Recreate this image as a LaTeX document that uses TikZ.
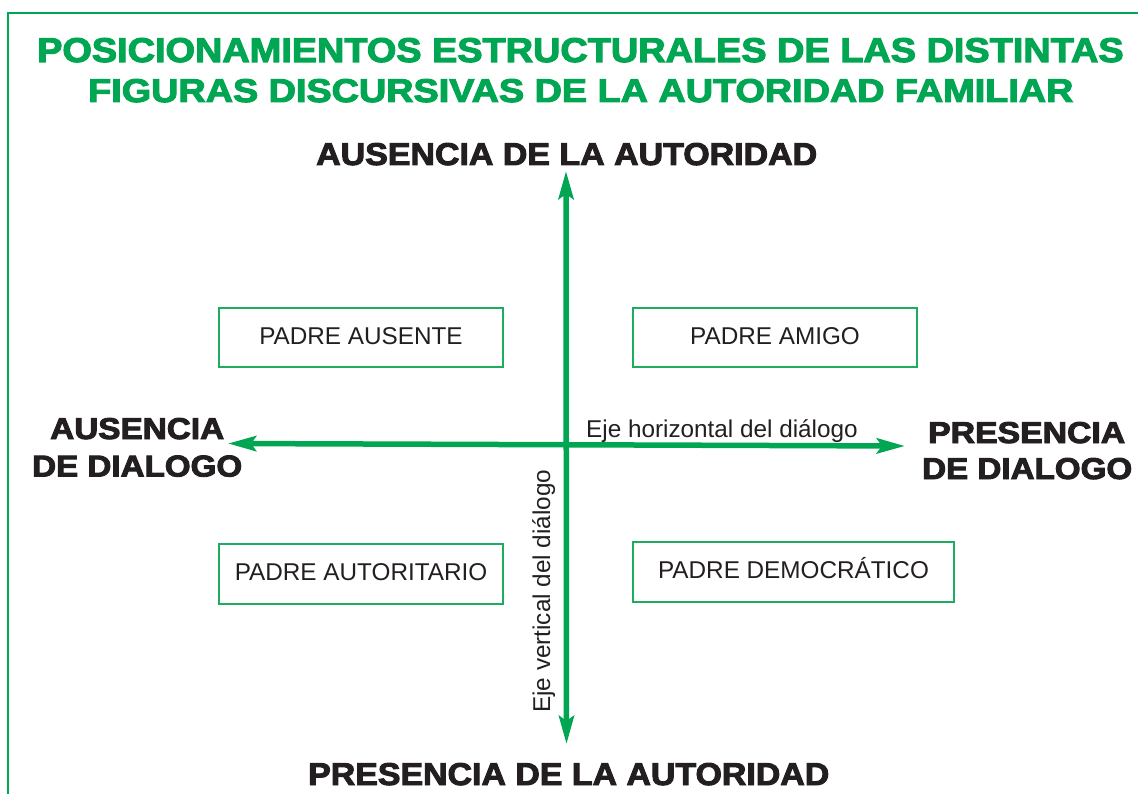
\documentclass[tikz,border=0pt]{standalone}
\usepackage{fontspec}
\setmainfont{Liberation Sans}
\newfontfamily\heavy[FakeBold=3]{Liberation Sans Bold}
\usetikzlibrary{arrows.meta}
\definecolor{fgreen}{RGB}{0,166,81}
\definecolor{bgreen}{RGB}{30,172,95}
\definecolor{ink}{RGB}{35,31,32}
\tikzset{
  tipA/.tip={Stealth[length=28pt,width=15pt,inset=5pt]},
  axis/.style={draw=fgreen, line width=5.5pt},
  pbox/.style={draw=bgreen, line width=1.6pt, inner sep=0pt, text=ink,
    font=\fontsize{24.3pt}{28pt}\selectfont, text height=17.2pt, text depth=4pt},
  lbl/.style={anchor=base west, inner sep=0pt, text=ink},
  ttl/.style={anchor=base west, inner sep=0pt, text=fgreen},
  axlbl/.style={anchor=base west, inner sep=0pt, text=ink, font=\fontsize{24.3pt}{28pt}\selectfont}
}
\begin{document}
\begin{tikzpicture}[x=1pt,y=-1pt]
\useasboundingbox (0,0) rectangle (1138,794);
\fill[white] (0,0) rectangle (1138,794);
% frame (cropped at right and bottom)
\coordinate (fr) at (1140,12.8);
\coordinate (fc) at (7.8,12.8);
\coordinate (fb) at (7.8,796);
\draw[fgreen, line width=2.3pt] (fr) -- (fc) -- (fb);
% title
\node[ttl] (t1) at (37,62) {\resizebox{1086pt}{24pt}{\heavy POSICIONAMIENTOS ESTRUCTURALES DE LAS DISTINTAS}};
\node[ttl] (t2) at (88,102) {\resizebox{985pt}{23pt}{\heavy FIGURAS DISCURSIVAS DE LA AUTORIDAD FAMILIAR}};
% axes
\coordinate (hl) at (228,443.5);
\coordinate (hr) at (905,446);
\coordinate (vt) at (566,171);
\coordinate (vb) at (566.5,744);
\draw[axis, tipA-tipA] (hl) -- (hr);
\draw[axis, tipA-tipA] (vt) -- (vb);
% axis labels
\node[axlbl] (eh) at (586,437) {Eje horizontal del diálogo};
\node[axlbl, rotate=90] (ev) at (550,713) {Eje vertical del diálogo};
% pole labels
\node[lbl] (top) at (316,165) {\resizebox{501pt}{22pt}{\heavy AUSENCIA DE LA AUTORIDAD}};
\node[lbl] (bot) at (308,785) {\resizebox{521pt}{22pt}{\heavy PRESENCIA DE LA AUTORIDAD}};
\node[lbl] (l1) at (50,439) {\resizebox{174pt}{21pt}{\heavy AUSENCIA}};
\node[lbl] (l2) at (32,476.5) {\resizebox{210pt}{21pt}{\heavy DE DIALOGO}};
\node[lbl] (r1) at (928,443) {\resizebox{197pt}{21pt}{\heavy PRESENCIA}};
\node[lbl] (r2) at (922,479) {\resizebox{210pt}{21pt}{\heavy DE DIALOGO}};
% boxes
\node[pbox, minimum width=284pt, minimum height=59pt] (ausente) at (361,337.5) {PADRE AUSENTE};
\node[pbox, minimum width=284pt, minimum height=59pt] (amigo) at (775,337.5) {PADRE AMIGO};
\node[pbox, minimum width=284pt, minimum height=60pt] (autor) at (361,574) {PADRE AUTORITARIO};
\node[pbox, minimum width=321pt, minimum height=60pt] (democ) at (793.5,572) {PADRE DEMOCRÁTICO};
\end{tikzpicture}
\end{document}
